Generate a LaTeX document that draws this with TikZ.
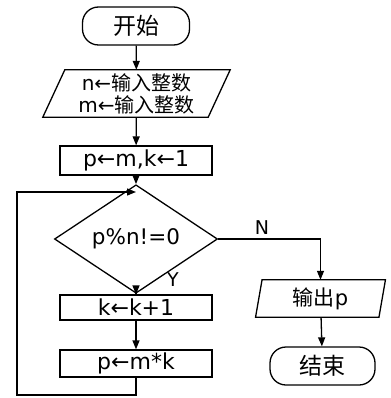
\documentclass[tikz,border=0pt]{standalone}
\usepackage{fontspec}
\setmainfont{DejaVu Sans}
\newfontfamily\cjk{Noto Sans CJK SC}
\usetikzlibrary{arrows.meta,shapes.geometric}
\tikzset{
  box/.style={draw,line width=1.3pt,minimum width=152pt,minimum height=28pt,inner sep=0pt,font=\fontsize{22}{24}\selectfont},
  term/.style={draw,line width=1.3pt,rounded corners=16pt,inner sep=0pt,font=\fontsize{23}{24}\selectfont\cjk},
  io/.style={inner sep=0pt,font=\fontsize{20}{22}\selectfont},
  dec/.style={draw,diamond,line width=1.3pt,minimum width=163pt,minimum height=52pt,inner sep=0pt,font=\fontsize{21.5}{22}\selectfont},
  lbl/.style={font=\fontsize{19}{22}\selectfont},
  conn/.style={line width=1.3pt,-{Triangle[length=9pt,width=7pt]}},
  plain/.style={line width=1.3pt},
}
\newcommand\la{←}
\begin{document}
\begin{tikzpicture}[x=1pt,y=-1pt]
\useasboundingbox (0,0) rectangle (390,398);
\node[term,minimum width=107pt,minimum height=38pt] (start) at (136,26) {开始};
\node[io,minimum width=165pt,minimum height=47pt,align=center] (in) at (136.5,93.5) {n\la{\cjk 输入整数}\\m\la{\cjk 输入整数}};
\draw[plain] ([xshift=11pt]in.north west) -- ([xshift=11pt]in.north east) -- ([xshift=-11pt]in.south east) -- ([xshift=-11pt]in.south west) -- cycle;
\node[box,minimum height=29pt] (p0) at (136,160.5) {p\la m,k\la 1};
\node[dec] (d) at (136,239) {p\%n!=0};
\node[box,minimum height=25pt] (b1) at (136,307.5) {k\la k+1};
\node[box,minimum height=27pt] (b2) at (136,363.5) {p\la m*k};
\node[io,minimum width=123pt,minimum height=37pt,font=\fontsize{21}{22}\selectfont] (out) at (320.5,298.5) {{\cjk 输出}p};
\draw[plain] ([xshift=3.25pt]out.north west) -- ([xshift=3.25pt]out.north east) -- ([xshift=-3.25pt]out.south east) -- ([xshift=-3.25pt]out.south west) -- cycle;
\node[term,minimum width=105pt,minimum height=38pt] (end) at (322.5,366) {结束};
\node[lbl] (N) at (262,228) {N};
\node[lbl] (Y) at (173,280) {Y};
\coordinate (lb) at (17,395);
\coordinate (lt) at (17,192);
\coordinate (jn) at (136,192);
\draw[conn] (start) -- (in);
\draw[conn] (in) -- (p0);
\draw[conn] (p0) -- (d);
\draw[conn] (d) -- (b1);
\draw[conn] (b1) -- (b2);
\draw[conn] (b2.south) |- (lb) -- (lt) -- (jn);
\draw[conn] (d.east) -| (out.north);
\draw[conn] (out) -- (end);
\end{tikzpicture}
\end{document}
